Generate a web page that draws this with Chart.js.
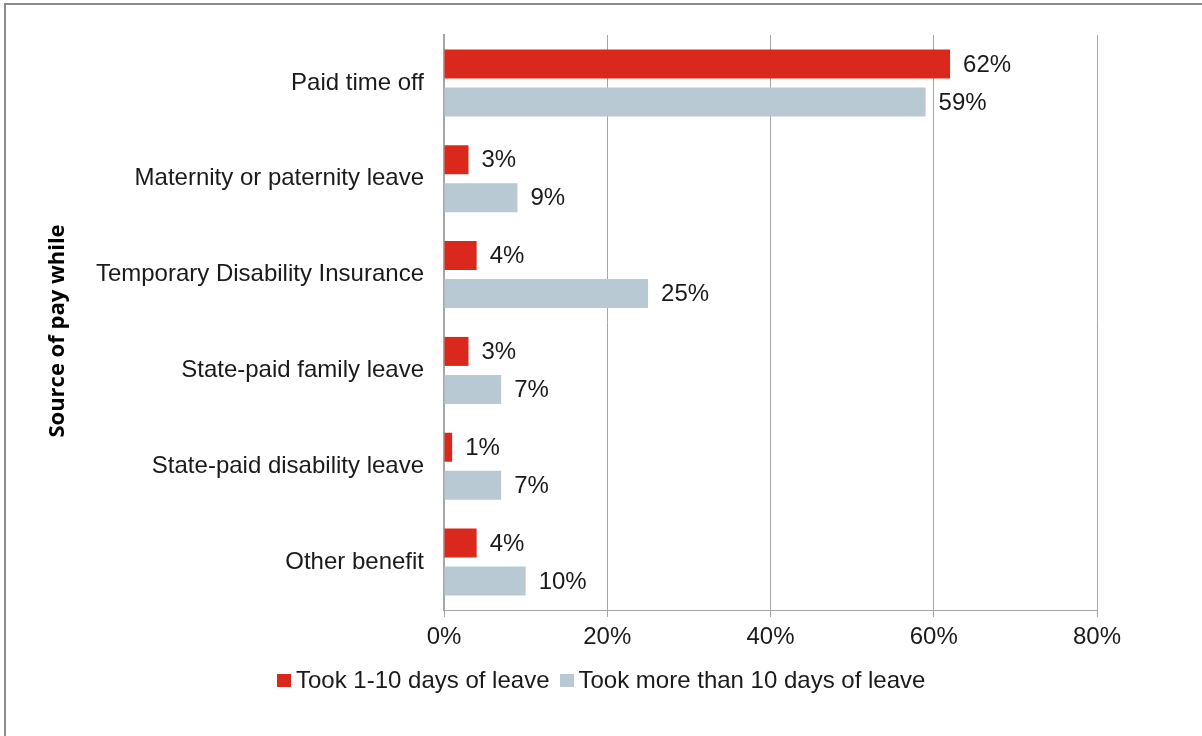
<!DOCTYPE html>
<html>
<head>
<meta charset="utf-8">
<script src="https://cdn.jsdelivr.net/npm/chart.js@4/dist/chart.umd.min.js"></script>
<style>
  html, body { margin: 0; padding: 0; background: #fff; overflow: hidden; }
  #wrap { position: relative; width: 1202px; height: 736px; overflow: hidden; }
  #frame { position: absolute; left: 4px; top: 3px; width: 1300px; height: 800px; border: 2px solid #8c8c8c; }
  canvas { position: absolute; left: 0; top: 0; }
  #legend { position: absolute; left: 277px; top: 666px; font: 24px "Liberation Sans", Arial, sans-serif; color: #1a1a1a; white-space: nowrap; }
  #legend span.box { display: inline-block; width: 14px; height: 13px; margin-right: 5px; vertical-align: 1px; }
  #legend span.item { margin-right: 10px; }
</style>
</head>
<body>
<div id="wrap">
  <div id="frame"></div>
  <canvas id="myChart" width="1202" height="736"></canvas>
  <div id="legend"></div>
</div>
<script>
var categorias = ["Paid time off", "Maternity or paternity leave", "Temporary Disability Insurance",
                  "State-paid family leave", "State-paid disability leave", "Other benefit"];
var corto = [62, 3, 4, 3, 1, 4];     // Took 1-10 days of leave
var largo = [59, 9, 25, 7, 7, 10];   // Took more than 10 days of leave
var series = ["Took 1-10 days of leave", "Took more than 10 days of leave"];
var ticksX = [0, 20, 40, 60, 80];

var rojo = "rgb(218,41,28)";
var gris = "rgb(184,201,211)";
var fuente = '"Liberation Sans", Arial, sans-serif';

// etiquetas con el valor a la derecha de cada barra
var etiquetas = {
    id: "etiquetas",
    afterDatasetsDraw: function(chart) {
        var ctx = chart.ctx;
        ctx.save();
        ctx.font = "24px " + fuente;
        ctx.fillStyle = "#1a1a1a";
        ctx.textBaseline = "middle";
        ctx.textAlign = "left";
        chart.data.datasets.forEach(function(ds, i) {
            chart.getDatasetMeta(i).data.forEach(function(bar, j) {
                ctx.fillText(ds.data[j] + "%", bar.x + 13, bar.y + 1);
            });
        });
        ctx.restore();
    }
};

// titulo vertical del eje de categorias
var tituloY = {
    id: "tituloY",
    afterDraw: function(chart) {
        var ctx = chart.ctx;
        ctx.save();
        ctx.translate(58, 331);
        ctx.rotate(-Math.PI / 2);
        ctx.font = 'bold 22px "Open Sans", sans-serif';
        ctx.fillStyle = "#000";
        ctx.textAlign = "center";
        ctx.textBaseline = "middle";
        ctx.fillText("Source of pay while", 0, 0);
        ctx.restore();
    }
};

function crearLeyenda() {
    var colores = [rojo, gris];
    var html = "";
    series.forEach(function(s, i) {
        html += '<span class="item"><span class="box" style="background:' + colores[i] + '"></span>' + s + '</span>';
    });
    document.getElementById("legend").innerHTML = html;
}

var ctx = document.getElementById("myChart").getContext("2d");
var myChart = new Chart(ctx, {
    type: "bar",
    data: {
        labels: categorias,
        datasets: [
            { label: series[0], data: corto, backgroundColor: rojo },
            { label: series[1], data: largo, backgroundColor: gris }
        ]
    },
    options: {
        indexAxis: "y",
        responsive: false,
        animation: false,
        categoryPercentage: 0.793,
        barPercentage: 0.763,
        layout: { padding: { top: 35, right: 105, left: 0, bottom: 0 } },
        plugins: {
            legend: { display: false },
            tooltip: { enabled: false }
        },
        scales: {
            x: {
                min: 0,
                max: 80,
                afterBuildTicks: function(scale) {
                    scale.ticks = ticksX.map(function(v) { return { value: v }; });
                },
                afterFit: function(scale) { scale.height = 126; },
                grid: { color: "#a6a6a6", lineWidth: 1, tickLength: 7, drawTicks: true },
                border: { color: "#a6a6a6", width: 1 },
                ticks: {
                    padding: 6,
                    color: "#1a1a1a",
                    font: { family: fuente, size: 24 },
                    callback: function(v) { return v + "%"; }
                }
            },
            y: {
                afterFit: function(scale) { scale.width = 444; },
                grid: { display: false },
                border: { color: "#a6a6a6", width: 2 },
                ticks: {
                    padding: 12,
                    color: "#1a1a1a",
                    font: { family: fuente, size: 24 }
                }
            }
        }
    },
    plugins: [etiquetas, tituloY]
});

crearLeyenda();
</script>
</body>
</html>
